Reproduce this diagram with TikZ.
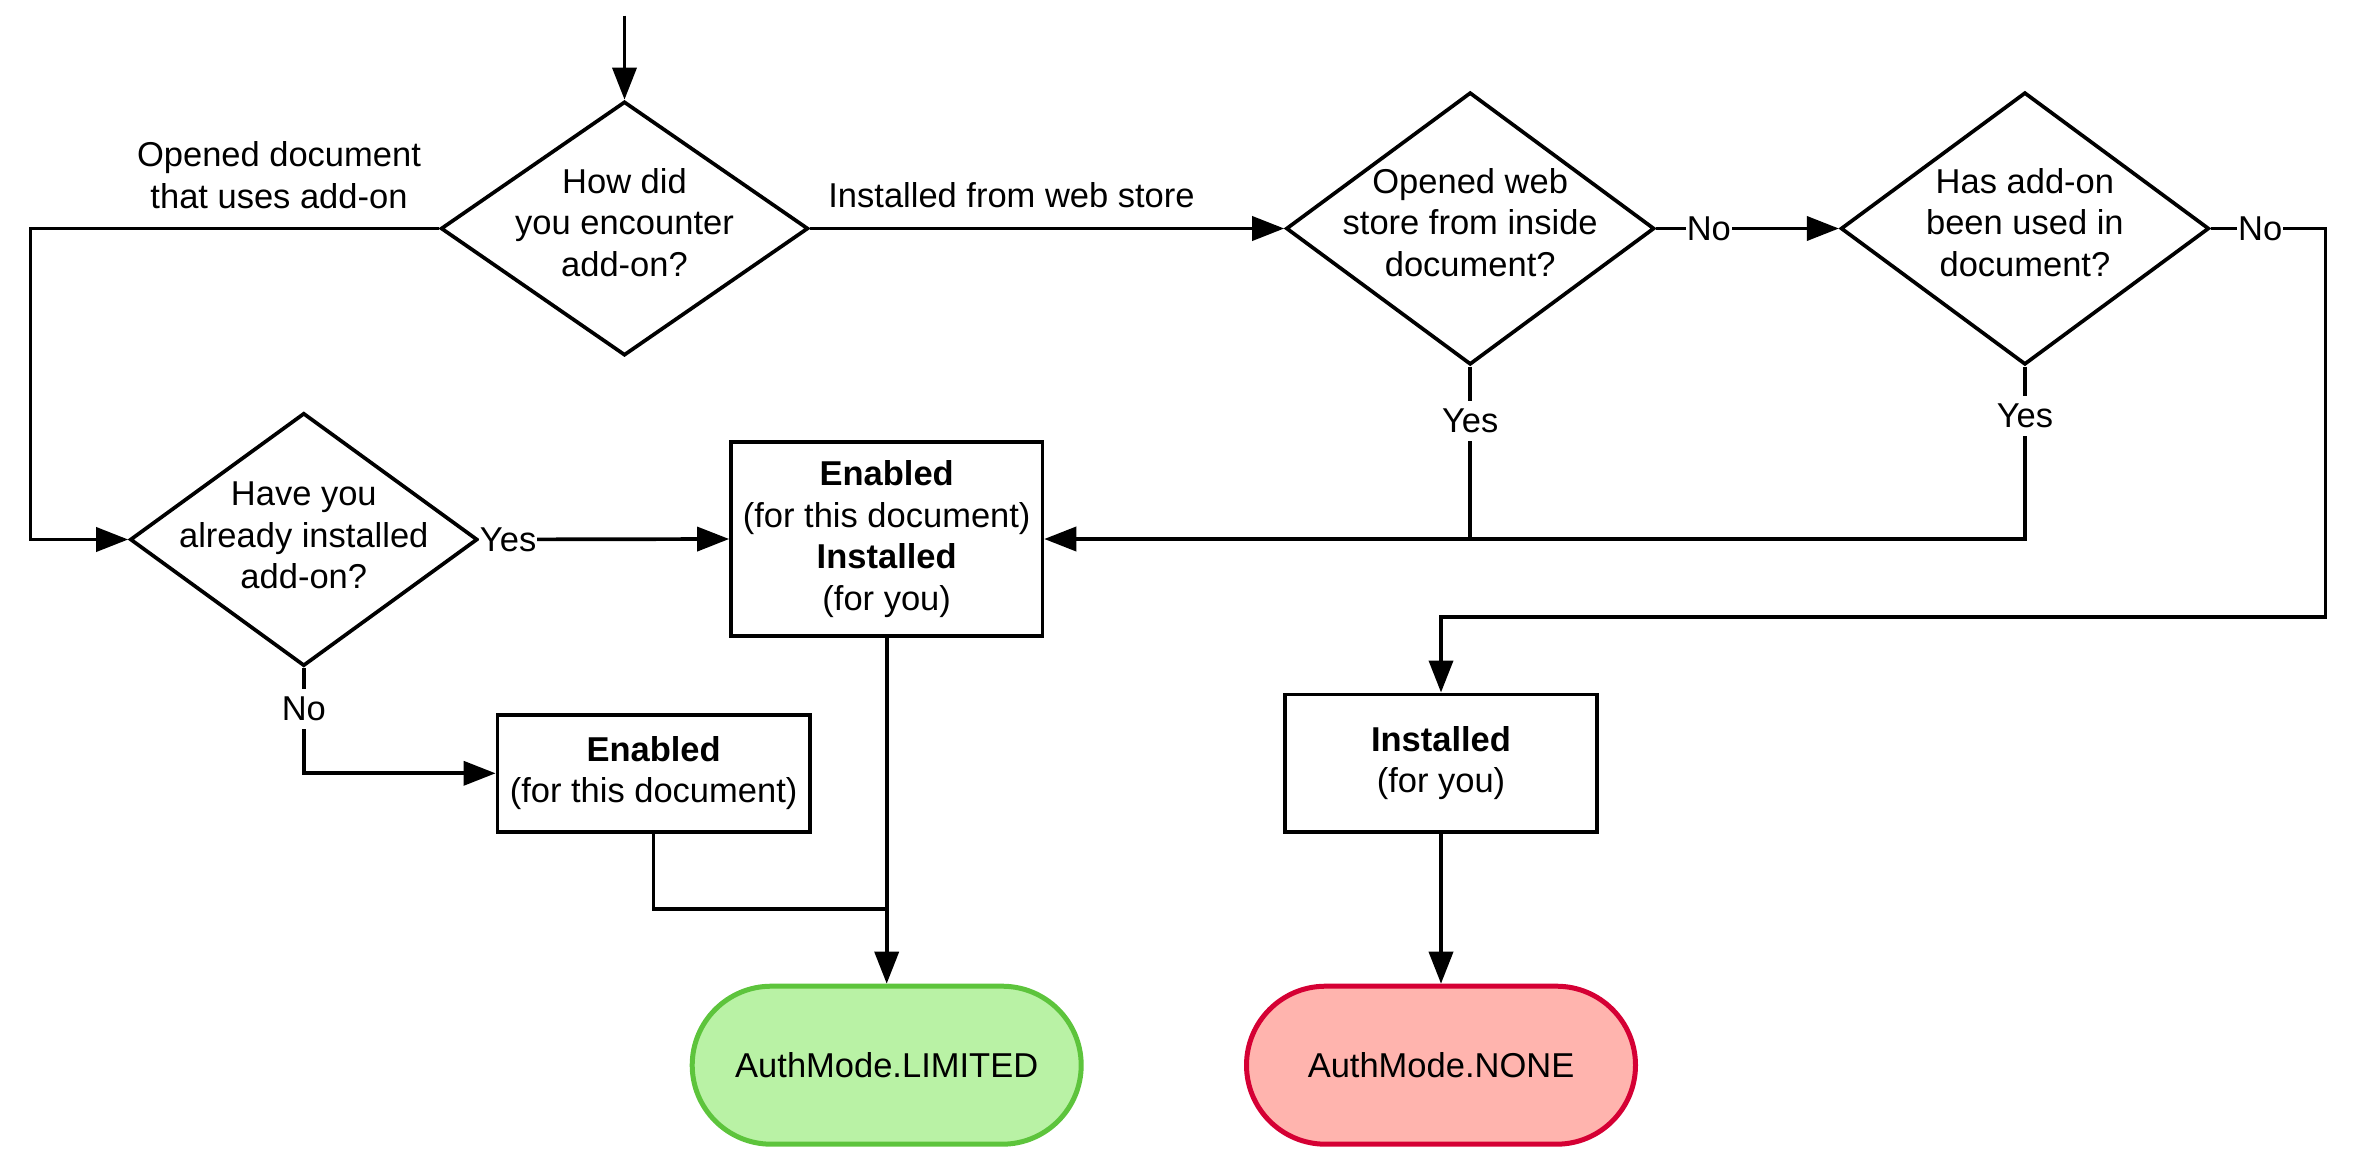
\documentclass[tikz,border=0pt]{standalone}
\usepackage{fontspec}
\setmainfont{Liberation Sans}
\usetikzlibrary{shapes.geometric,shapes.misc,arrows.meta}
\definecolor{limfill}{HTML}{B9F2A5}
\definecolor{limdraw}{HTML}{5DC43C}
\definecolor{nonefill}{HTML}{FFB4AE}
\definecolor{nonedraw}{HTML}{D50034}
\begin{document}
\begin{tikzpicture}[x=1pt,y=-1pt,
  font=\fontsize{34.5}{41.5}\selectfont,
  line width=3.7pt,
  arr/.style={-{Triangle[length=32pt,width=24pt]}},
  decision/.style={diamond, draw, line width=3.7pt, inner sep=0pt},
  proc/.style={rectangle, draw, line width=3.7pt, inner sep=0pt, align=center},
  term/.style={rounded rectangle, draw, line width=5pt, inner sep=0pt,
    minimum width=389pt, minimum height=158pt},
  lbl/.style={fill=white, inner xsep=1pt, inner ysep=8pt},
  txt/.style={align=center, inner sep=0pt}]
\useasboundingbox (0,0) rectangle (2368,1174);

% decisions
\node[decision, minimum width=367.4pt, minimum height=254pt] (d1) at (624.5,228.5) {};
\node[txt] at ([yshift=6pt]d1) {How did\\you encounter\\add-on?};
\node[decision, minimum width=347.5pt, minimum height=253pt] (d2) at (303.8,539.5) {};
\node[txt] at ([yshift=4pt]d2) {Have you\\already installed\\add-on?};
\node[decision, minimum width=368.3pt, minimum height=272.3pt] (d3) at (1470.2,228.5) {};
\node[txt] at ([yshift=6pt]d3) {Opened web\\store from inside\\document?};
\node[decision, minimum width=368.3pt, minimum height=272.3pt] (d4) at (2024.9,228.5) {};
\node[txt] at ([yshift=6pt]d4) {Has add-on\\been used in\\document?};

% processes
\node[proc, minimum width=311.4pt, minimum height=194pt] (b1) at (886.7,539)
  {\textbf{Enabled}\\(for this document)\\\textbf{Installed}\\(for you)};
\node[proc, minimum width=312.3pt, minimum height=116.7pt] (b2) at (653.6,773.3)
  {\textbf{Enabled}\\(for this document)};
\node[proc, minimum width=311.4pt, minimum height=137.3pt] (b3) at (1441,763)
  {\textbf{Installed}\\(for you)};

% terminals
\node[term, fill=limfill, draw=limdraw] (t1) at (886.7,1065.2) {AuthMode.LIMITED};
\node[term, fill=nonefill, draw=nonedraw] (t2) at (1441,1065.2) {AuthMode.NONE};

% free labels
\node[txt] (l1) at (279,175) {Opened document\\that uses add-on};
\node[txt] (l2) at (1011.5,195.5) {Installed from web store};

% helper coordinates
\coordinate (top) at (624.5,15.6);
\coordinate (lc) at (30.6,228.5);
\coordinate (rc) at (2325.6,617.3);
\coordinate (jn) at (886.7,909.3);

% connectors
\draw[arr] (top) -- (d1.north);
\draw[arr] (d1.west) -- (lc) |- (d2.west);
\draw[arr] (d1.east) -- (d3.west);
\draw[arr] (d2.east) -- node[lbl,pos=0.115]{Yes} (b1.west);
\draw[arr] (d2.south) |- node[lbl,pos=0.196]{No} (b2.west);
\draw[arr] (d3.east) -- node[lbl,pos=0.288]{No} (d4.west);
\draw (d3.south) -- node[lbl,pos=0.315]{Yes} (d3.south |- b1.east);
\draw[arr] (d4.south) |- node[lbl,pos=0.144]{Yes} (b1.east);
\draw[arr] (d4.east) -- node[lbl,pos=0.43]{No} (d4.east -| rc) -- (rc) -| (b3.north);
\draw (b2.south) |- (jn);
\draw[arr] (b1.south) -- (t1.north);
\draw[arr] (b3.south) -- (t2.north);
\end{tikzpicture}
\end{document}
